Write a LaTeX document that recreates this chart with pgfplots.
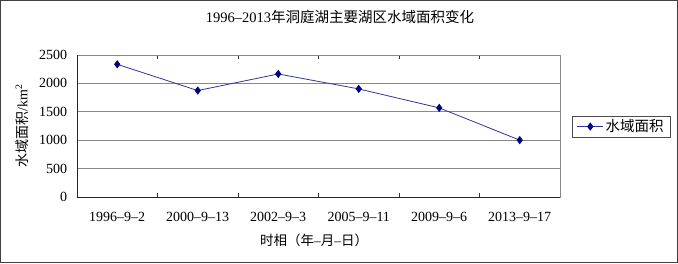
\documentclass[border=0pt]{standalone}
\usepackage{fontspec}
\setmainfont{Liberation Serif}
\newfontfamily\cjk{Noto Sans CJK SC}
\usepackage{pgfplots}
\pgfplotsset{compat=1.18}
\definecolor{linec}{HTML}{333399}
\definecolor{markc}{HTML}{000080}
\definecolor{gridc}{HTML}{888888}
\begin{document}
\fontsize{14}{16}\selectfont
\begin{tikzpicture}[x=1pt,y=1pt]
\draw[line width=1.3pt, black!75] (0.65,0.65) rectangle (677.35,262.35);
\begin{axis}[
  at={(77pt,66pt)}, anchor=south west,
  scale only axis, width=483pt, height=142pt,
  xmin=0.5, xmax=6.5, ymin=0, ymax=2500,
  xtick={1,...,6},
  xticklabels={1996--9--2,2000--9--13,2002--9--3,2005--9--11,2009--9--6,2013--9--17},
  major x tick style={draw=none},
  minor xtick={1.5,2.5,3.5,4.5,5.5},
  minor x tick style={black!80, line width=0.6pt},
  minor tick length=4pt,
  ytick={0,500,...,2500},
  major y tick style={draw=none},
  ymajorgrids,
  grid style={gridc, line width=0.8pt},
  axis line style={gridc, line width=0.8pt},
  /pgf/number format/assume math mode=true,
  /pgf/number format/1000 sep={},
  tick label style={font=\fontsize{14}{16}\selectfont},
  xticklabel style={yshift=-10pt},
  yticklabel style={xshift=-5pt},
  legend style={at={(1.024,0.496)}, anchor=west, draw=black!70, line width=0.6pt,
    font=\cjk\fontsize{14.5}{16}\selectfont, inner xsep=5pt, inner ysep=1.5pt,
    legend cell align=left},
  legend image code/.code={
    \draw[#1, mark repeat=2, mark phase=2] plot coordinates {(0pt,0pt) (13pt,0pt) (26pt,0pt)};
  },
  clip=false,
]
\addplot[linec, line width=0.8pt, mark=diamond*, mark size=3.5pt,
  mark options={fill=markc, draw=markc}]
  coordinates {(1,2336) (2,1874) (3,2166) (4,1903) (5,1569) (6,1001)};
\addlegendentry{水域面积}
\draw[black!85, line width=0.9pt] (rel axis cs:0,1) -- (rel axis cs:0,0) -- (rel axis cs:1,0);
\end{axis}
\node[font=\fontsize{14.5}{16}\selectfont] at (340,246) {1996--2013{\cjk 年洞庭湖主要湖区水域面积变化}};
\node[font=\fontsize{13.5}{16}\selectfont] at (314,23) {{\cjk 时相（年}--{\cjk 月}--{\cjk 日）}};
\node[rotate=90, font=\fontsize{14}{16}\selectfont] at (22,137) {{\cjk 水域面积}/km\textsuperscript{2}};
\end{tikzpicture}
\end{document}
